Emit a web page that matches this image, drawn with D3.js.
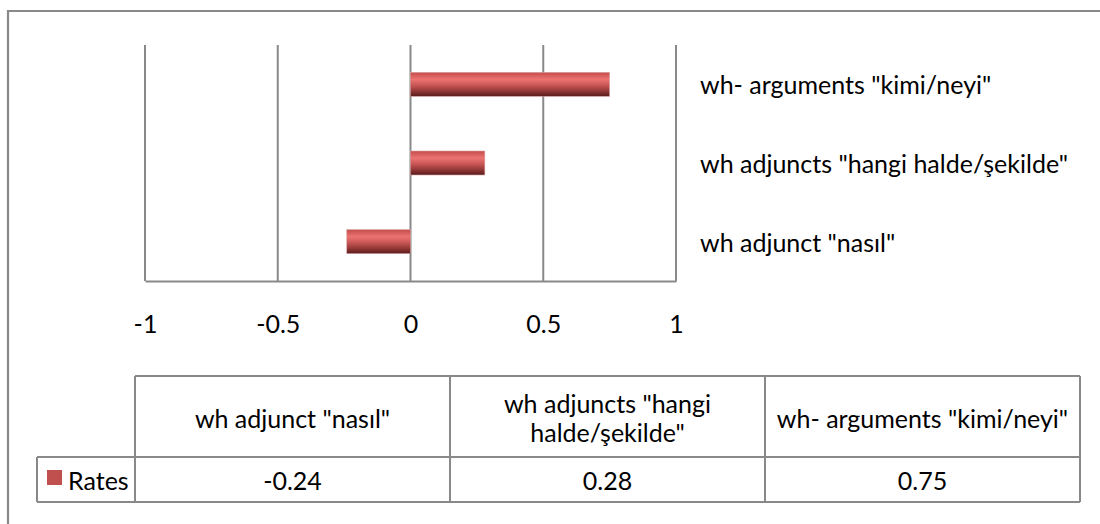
<!DOCTYPE html>
<html>
<head>
<meta charset="utf-8">
<script src="https://cdn.jsdelivr.net/npm/d3@7"></script>
<style>
  html, body { margin: 0; padding: 0; background: #fff; }
  svg { display: block; }
  text { font-family: Lato, "Open Sans", sans-serif; fill: #000; }
</style>
</head>
<body>
<svg id="chart" width="1100" height="524"></svg>
<script>
// ---- data ----
const categories = ['wh adjunct "nasıl"', 'wh adjuncts "hangi halde/şekilde"', 'wh- arguments "kimi/neyi"'];
const headerLines = [['wh adjunct "nasıl"'], ['wh adjuncts "hangi', 'halde/şekilde"'], ['wh- arguments "kimi/neyi"']];
const rates = [-0.24, 0.28, 0.75];
const rateLabels = ['-0.24', '0.28', '0.75'];
const seriesName = 'Rates';
const xTicks = [-1, -0.5, 0, 0.5, 1];
const xTickLabels = ['-1', '-0.5', '0', '0.5', '1'];

// ---- layout ----
const svg = d3.select('#chart');
const grey = '#898989';
const fs = 25;

const x = d3.scaleLinear().domain([-1, 1]).range([145, 676]);
const y = d3.scaleBand().domain(categories.slice().reverse()).range([45, 281])
  .paddingInner(0.695).paddingOuter(0.3475);

// gradient for bars
const defs = svg.append('defs');
const grad = defs.append('linearGradient').attr('id', 'barGrad')
  .attr('x1', 0).attr('y1', 0).attr('x2', 0).attr('y2', 1);
[[0, '#c44e4c'], [0.3, '#ec7372'], [0.55, '#c65553'], [0.8, '#8e3534'], [1, '#561c1c']]
  .forEach(([o, c]) => grad.append('stop').attr('offset', o).attr('stop-color', c));

// outer frame (only top & left visible)
svg.append('path').attr('d', 'M8,524 V11 H1100')
  .attr('fill', 'none').attr('stroke', grey).attr('stroke-width', 2.2);

// gridlines
svg.append('g').selectAll('line').data(xTicks).join('line')
  .attr('x1', d => x(d)).attr('x2', d => x(d))
  .attr('y1', 45).attr('y2', 281)
  .attr('stroke', grey).attr('stroke-width', 2);

// x axis baseline
const xAxis = d3.axisBottom(x).tickValues(xTicks)
  .tickFormat((d, i) => xTickLabels[i]).tickSize(0).tickPadding(34);
const gx = svg.append('g').attr('transform', 'translate(0,281)').call(xAxis);
gx.select('.domain').attr('stroke', grey).attr('stroke-width', 2);
gx.selectAll('text').style('font-family', 'Lato, sans-serif').style('font-size', fs + 'px').attr('fill', '#000');

// bars
svg.append('g').selectAll('rect').data(categories).join('rect')
  .attr('x', (d, i) => x(Math.min(0, rates[i])))
  .attr('width', (d, i) => Math.abs(x(rates[i]) - x(0)))
  .attr('y', d => y(d))
  .attr('height', y.bandwidth())
  .attr('fill', 'url(#barGrad)')
  .attr('stroke', '#d9a0a0').attr('stroke-width', 0.6);

// category labels on right
svg.append('g').selectAll('text').data(categories).join('text')
  .attr('x', 700).attr('y', d => y(d) + y.bandwidth() / 2)
  .attr('dominant-baseline', 'central')
  .style('font-size', fs + 'px')
  .text(d => d);

// ---- data table ----
const col = d3.scaleBand().domain(categories).range([135, 1080]);
const tTop = 376, tMid = 457, tBot = 502, legL = 37;
const tg = svg.append('g').attr('stroke', grey).attr('stroke-width', 2).attr('fill', 'none');
tg.append('line').attr('x1', col.range()[0]).attr('x2', col.range()[1]).attr('y1', tTop).attr('y2', tTop);
tg.append('line').attr('x1', legL).attr('x2', col.range()[1]).attr('y1', tMid).attr('y2', tMid);
tg.append('line').attr('x1', legL).attr('x2', col.range()[1]).attr('y1', tBot).attr('y2', tBot);
tg.append('line').attr('x1', legL).attr('x2', legL).attr('y1', tMid).attr('y2', tBot);
tg.selectAll('line.v').data(categories.concat([null])).join('line').attr('class', 'v')
  .attr('x1', (d, i) => d ? col(d) : col.range()[1])
  .attr('x2', (d, i) => d ? col(d) : col.range()[1])
  .attr('y1', tTop).attr('y2', tBot);

// header texts
const hg = svg.append('g');
categories.forEach((c, i) => {
  const lines = headerLines[i];
  const lh = 29.5;
  const cy = (tTop + tMid) / 2 + 1;
  lines.forEach((ln, j) => {
    hg.append('text')
      .attr('x', col(c) + col.bandwidth() / 2)
      .attr('y', cy + (j - (lines.length - 1) / 2) * lh)
      .attr('text-anchor', 'middle').attr('dominant-baseline', 'central')
      .style('font-size', fs + 'px').text(ln);
  });
});

// values row
svg.append('g').selectAll('text').data(categories).join('text')
  .attr('x', d => col(d) + col.bandwidth() / 2)
  .attr('y', (tMid + tBot) / 2)
  .attr('text-anchor', 'middle').attr('dominant-baseline', 'central')
  .style('font-size', fs + 'px')
  .text((d, i) => rateLabels[i]);

// legend key
svg.append('rect').attr('x', 47).attr('y', 470).attr('width', 15).attr('height', 15).attr('fill', '#c0504d');
svg.append('text').attr('x', 68).attr('y', (tMid + tBot) / 2)
  .attr('dominant-baseline', 'central').style('font-size', fs + 'px').text(seriesName);
</script>
</body>
</html>
